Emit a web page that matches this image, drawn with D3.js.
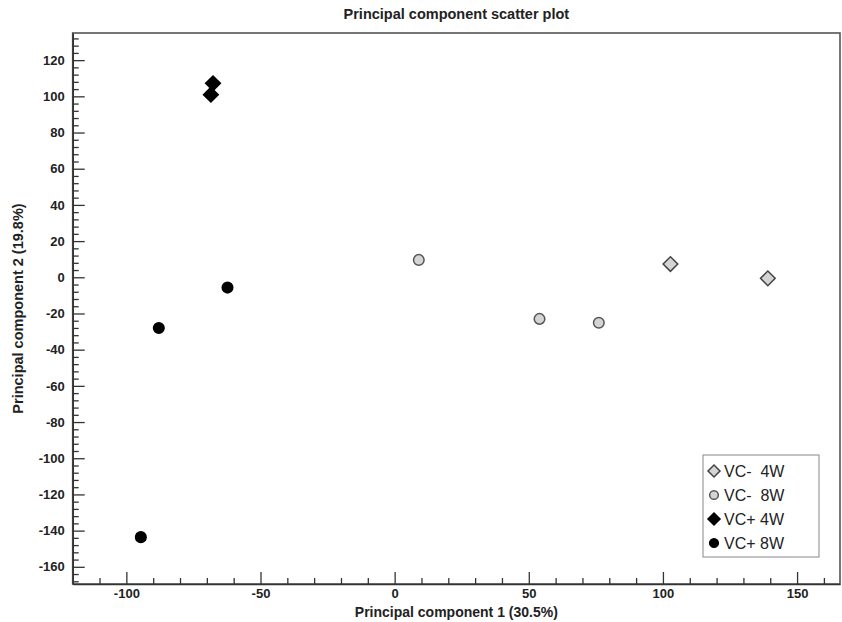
<!DOCTYPE html>
<html>
<head>
<meta charset="utf-8">
<script src="https://cdn.jsdelivr.net/npm/d3@7"></script>
<style>
  html, body { margin: 0; padding: 0; background: #fff; }
  svg { display: block; font-family: "Liberation Sans", Arial, sans-serif; }
</style>
</head>
<body>
<svg id="chart" width="842" height="622"></svg>
<script>
// ---- data ----
const seriesNames = ["VC-  4W", "VC-  8W", "VC+ 4W", "VC+ 8W"];
const vcMinus4W_x = [102.8, 139.1];
const vcMinus4W_y = [7.3, -0.6];
const vcMinus8W_x = [9.0, 54.0, 76.1];
const vcMinus8W_y = [9.6, -23.0, -25.1];
const vcPlus4W_x = [-67.7, -68.5];
const vcPlus4W_y = [107.2, 100.9];
const vcPlus8W_x = [-62.3, -87.9, -94.6];
const vcPlus8W_y = [-5.7, -28.0, -143.6];
const xMajorTicks = [-100, -50, 0, 50, 100, 150];
const yMajorTicks = [-160, -140, -120, -100, -80, -60, -40, -20, 0, 20, 40, 60, 80, 100, 120];
const titleText = "Principal component scatter plot";
const xLabelText = "Principal component 1 (30.5%)";
const yLabelText = "Principal component 2 (19.8%)";

// ---- layout ----
const svg = d3.select("#chart");
const L = 72.7, R = 840, T = 33, B = 584;
const x = d3.scaleLinear().domain([-120, 166]).range([L, R]);
const y = d3.scaleLinear().domain([-169.5, 135]).range([B, T]);
const fmt = v => String(v); // plain hyphen minus

// frame (top/right)
svg.append("rect").attr("x", L).attr("y", T).attr("width", R - L).attr("height", B - T)
  .attr("fill", "none").attr("stroke", "#555").attr("stroke-width", 1.6);

// minor ticks
const xMinor = d3.range(-110, 166, 10).filter(v => v % 50 !== 0);
const yMinor = d3.range(-168, 135, 4).filter(v => v % 20 !== 0);

const gxMinor = svg.append("g").attr("transform", `translate(0,${B})`)
  .call(d3.axisBottom(x).tickValues(xMinor).tickSize(-6).tickFormat(""));
gxMinor.select(".domain").remove();
const gyMinor = svg.append("g").attr("transform", `translate(${L},0)`)
  .call(d3.axisLeft(y).tickValues(yMinor).tickSize(-6).tickFormat(""));
gyMinor.select(".domain").remove();

const gx = svg.append("g").attr("transform", `translate(0,${B})`)
  .call(d3.axisBottom(x).tickValues(xMajorTicks).tickFormat(fmt).tickSize(-12).tickPadding(5).tickSizeOuter(0));
const gy = svg.append("g").attr("transform", `translate(${L},0)`)
  .call(d3.axisLeft(y).tickValues(yMajorTicks).tickFormat(fmt).tickSize(-12).tickPadding(8).tickSizeOuter(0));

[gx, gy, gxMinor, gyMinor].forEach(g => {
  g.selectAll(".tick line").attr("stroke", "#333").attr("stroke-width", 1.3);
  g.selectAll(".domain").attr("stroke", "#333").attr("stroke-width", 1.6);
  g.selectAll("text").attr("font-size", 13).attr("font-weight", "bold").attr("fill", "#222")
    .attr("font-family", "'Liberation Sans', Arial, sans-serif");
});

// titles
svg.append("text").attr("x", (L + R) / 2).attr("y", 19).attr("text-anchor", "middle")
  .attr("font-size", 14.5).attr("font-weight", "bold").attr("fill", "#222").text(titleText);
svg.append("text").attr("x", (L + R) / 2).attr("y", 617).attr("text-anchor", "middle")
  .attr("font-size", 14).attr("font-weight", "bold").attr("fill", "#222").text(xLabelText);
svg.append("text").attr("transform", `translate(23,${(T + B) / 2}) rotate(-90)`).attr("text-anchor", "middle")
  .attr("font-size", 14.5).attr("font-weight", "bold").attr("fill", "#222").text(yLabelText);

// points
const diamond = d3.symbol(d3.symbolSquare, 108)();
const dot = d3.symbol(d3.symbolCircle, 88)();
const series = [
  { xs: vcMinus4W_x, ys: vcMinus4W_y, path: diamond, rot: 45, fill: "#d4d4d4", stroke: "#444" },
  { xs: vcMinus8W_x, ys: vcMinus8W_y, path: dot, rot: 0, fill: "#d4d4d4", stroke: "#555" },
  { xs: vcPlus4W_x, ys: vcPlus4W_y, path: diamond, rot: 45, fill: "#000", stroke: "#000" },
  { xs: vcPlus8W_x, ys: vcPlus8W_y, path: dot, rot: 0, fill: "#000", stroke: "#000" }
];
series.forEach(s => {
  svg.append("g").selectAll("path").data(s.xs.map((v, i) => [v, s.ys[i]])).join("path")
    .attr("d", s.path)
    .attr("transform", d => `translate(${x(d[0])},${y(d[1])}) rotate(${s.rot})`)
    .attr("fill", s.fill).attr("stroke", s.stroke).attr("stroke-width", 1.5);
});

// legend
const lg = svg.append("g").attr("transform", "translate(703,455)");
lg.append("rect").attr("x", 0).attr("y", 0).attr("width", 116).attr("height", 102)
  .attr("fill", "#fff").attr("stroke", "#888").attr("stroke-width", 1);
const legDiamond = d3.symbol(d3.symbolSquare, 72)();
const legDot = d3.symbol(d3.symbolCircle, 60)();
seriesNames.forEach((name, i) => {
  const s = series[i];
  const cy = 16 + i * 24;
  lg.append("path").attr("d", s.rot ? legDiamond : legDot)
    .attr("transform", `translate(11,${cy}) rotate(${s.rot})`)
    .attr("fill", s.fill).attr("stroke", s.stroke).attr("stroke-width", 1.5);
  lg.append("text").attr("x", 21).attr("y", cy + 5.5).attr("font-size", 16)
    .attr("fill", "#222").style("white-space", "pre").attr("xml:space", "preserve").text(name);
});
</script>
</body>
</html>
